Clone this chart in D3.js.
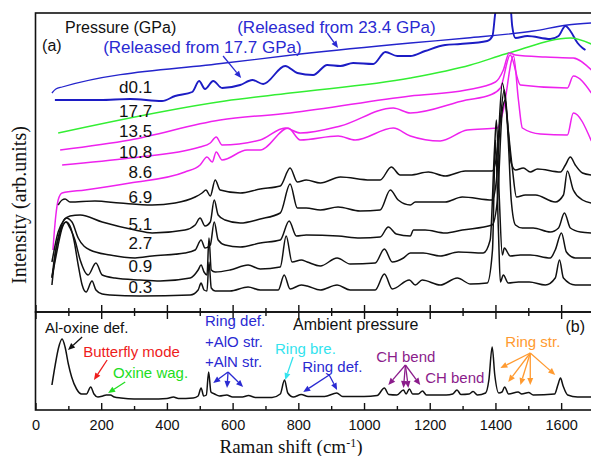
<!DOCTYPE html>
<html>
<head>
<meta charset="utf-8">
<script src="https://cdn.jsdelivr.net/npm/d3@7"></script>
<style>
  body { margin: 0; background: #fff; }
  svg { display: block; }
</style>
</head>
<body>
<script>
// ---- Axis ticks ----
const shiftTicks = d3.range(0, 1701, 100);
const shiftLabels = [0, 200, 400, 600, 800, 1000, 1200, 1400, 1600];

// ---- Spectra under pressure: [Raman shift (cm-1), intensity (arb. units)] ----
const released234 = [[50,219],[62,223],[81,225],[577,249],[806,258],[1141,269],[1314,274],[1515,281],[1619,287],[1692,289]];

const released177 = [[59,212],[196,212],[288,213],[385,211],[425,216],[477,220],[498,231],[516,223],[541,231],[568,224],
  [623,227],[660,232],[693,228],[760,246],[797,239],[845,237],[888,247],[928,246],[967,249],[1028,248],[1065,260],
  [1101,256],[1141,256],[1186,261],[1247,267],[1293,268],[1375,271],[1391,276],[1400,300],[1406,307],[1445,307],
  [1451,286],[1461,274],[1497,276],[1567,273],[1592,276],[1613,286],[1628,281],[1650,269],[1665,264],[1674,262]];

const p177 = [[69,179],[577,211],[775,219],[1141,234],[1324,247],[1430,258],[1461,261],[1628,274],[1692,268]];

const p135 = [[75,162],[288,172],[562,192],[775,199],[1141,216],[1311,222],[1400,230],[1424,242],[1442,259],
  [1461,257],[1552,255],[1637,254],[1692,242]];

const p108 = [[81,147],[288,154],[501,165],[532,169],[550,175],[568,167],[684,172],[760,184],[806,179],[928,186],
  [1089,204],[1141,199],[1311,212],[1384,217],[1415,224],[1445,257],[1476,227],[1619,224],[1637,236],[1692,219]];

const p86 = [[53,62],[62,97],[69,112],[81,119],[151,122],[288,129],[455,140],[501,147],[522,155],[538,150],[550,160],
  [568,152],[644,162],[684,162],[769,184],[806,172],[921,176],[973,172],[1089,184],[1141,176],[1232,171],[1314,182],
  [1406,184],[1424,202],[1455,256],[1470,212],[1482,184],[1537,178],[1619,177],[1637,199],[1692,171]];

const p69 = [[69,107],[81,112],[90,113],[105,110],[181,111],[257,109],[355,107],[425,109],[486,115],[507,119],[519,122],
  [532,116],[547,132],[562,122],[623,119],[684,123],[745,126],[775,144],[797,130],[824,132],[867,129],[928,135],
  [1019,132],[1049,132],[1083,145],[1110,137],[1141,137],[1196,140],[1247,136],[1308,141],[1390,141],[1406,162],
  [1421,229],[1436,192],[1448,149],[1461,142],[1485,144],[1506,140],[1528,143],[1598,140],[1613,147],[1628,155],
  [1643,147],[1665,139],[1692,137]];

const p51 = [[50,50],[69,80],[87,92],[105,96],[136,97],[203,90],[303,82],[355,79],[455,82],[486,87],[501,94],[516,86],
  [532,90],[544,112],[556,97],[577,92],[623,89],[684,93],[745,99],[775,128],[797,104],[824,104],[867,102],[921,105],
  [988,101],[1049,102],[1080,122],[1104,112],[1141,107],[1156,110],[1190,110],[1247,110],[1299,115],[1390,112],
  [1403,132],[1415,192],[1427,222],[1439,182],[1452,142],[1464,115],[1491,117],[1522,117],[1582,110],[1607,117],
  [1619,141],[1637,122],[1665,112],[1692,109]];

const p27 = [[50,27],[62,62],[75,82],[93,94],[111,90],[130,74],[166,62],[227,57],[303,54],[355,56],[455,59],[486,62],
  [504,72],[516,64],[532,67],[544,90],[556,72],[577,67],[623,65],[684,69],[745,72],[772,91],[794,76],[824,77],
  [921,76],[988,74],[1049,75],[1074,85],[1098,78],[1141,76],[1150,82],[1186,82],[1247,79],[1299,82],[1390,87],
  [1406,112],[1421,202],[1430,212],[1439,172],[1448,112],[1461,87],[1482,84],[1515,84],[1567,80],[1592,84],
  [1610,99],[1628,84],[1659,80],[1692,79]];

const p09 = [[50,34],[59,57],[75,80],[93,90],[105,84],[120,72],[136,52],[160,37],[184,49],[203,37],[242,34],[318,32],
  [379,31],[471,34],[495,42],[504,47],[513,40],[522,37],[528,74],[535,42],[547,40],[592,42],[647,47],[684,43],
  [745,45],[763,76],[781,50],[809,52],[827,50],[867,46],[918,54],[958,48],[1034,49],[1062,63],[1086,50],[1120,54],
  [1141,59],[1180,59],[1232,56],[1287,60],[1363,59],[1384,72],[1397,162],[1403,192],[1412,112],[1421,57],[1427,64],
  [1445,56],[1476,57],[1506,57],[1567,54],[1582,62],[1601,79],[1616,60],[1643,54],[1692,54]];

const p03 = [[50,35],[59,50],[69,67],[81,84],[93,90],[105,86],[117,72],[130,47],[142,27],[154,20],[172,31],[184,22],
  [203,18],[227,17],[318,16],[471,17],[495,22],[504,29],[513,22],[522,21],[528,50],[535,24],[547,21],[592,21],
  [647,25],[684,22],[739,22],[757,37],[775,23],[809,27],[827,26],[867,22],[918,27],[958,22],[1034,22],[1062,38],
  [1086,23],[1138,32],[1156,27],[1177,32],[1232,27],[1284,34],[1324,28],[1375,29],[1391,62],[1400,172],[1409,82],
  [1415,30],[1424,37],[1439,29],[1470,30],[1503,30],[1552,27],[1582,34],[1595,52],[1607,34],[1643,27],[1692,27]];

// ---- Ambient-pressure spectrum (panel b) ----
const ambient = [[50,25],[60,45],[70,62],[81,71],[90,63],[100,46],[110,33],[125,21],[140,16],[155,16],[168,23],[178,16],
  [190,13],[205,14],[215,15],[228,15],[240,13],[260,12],[300,11],[350,11],[400,11.5],[420,13],[435,11.5],[480,12],
  [495,14],[504,22],[512,14],[520,15],[527,38],[534,18],[545,16],[560,14],[582,15],[600,13],[630,13],[648,14.5],
  [670,12.5],[720,12.5],[745,16],[758,30],[768,17],[785,13],[809,15.5],[830,13.5],[880,13.5],[917,17],[935,13.5],
  [1000,13.5],[1040,14.5],[1062,22],[1075,15.5],[1100,15],[1120,20],[1128,16],[1138,21],[1148,16],[1165,16],
  [1178,19],[1190,15],[1250,15],[1270,16],[1283,20],[1295,15.5],[1320,16],[1332,18.5],[1345,15],[1370,17],
  [1380,30],[1390,63],[1398,35],[1410,17],[1420,18],[1428,23],[1440,16],[1469,18],[1480,16],[1501,17.5],[1515,15],
  [1580,16],[1590,25],[1598,32],[1606,24],[1620,15],[1650,13],[1700,13]];

// pressure labels (GPa) and the intensity level each label sits at
const pressureNames  = ['d0.1','17.7','13.5','10.8','8.6','6.9','5.1','2.7','0.9','0.3'];
const pressureLevels = [219, 195, 175, 154, 134, 109, 82, 63, 40, 19];

// ---- Series styling ----
const series = [
  { data: released234, color: '#2424cc', width: 1.3 },
  { data: released177, color: '#1c1cc4', width: 1.9 },
  { data: p177, color: '#33ee33', width: 1.5 },
  { data: p135, color: '#ee22ee', width: 1.5 },
  { data: p108, color: '#ee22ee', width: 1.5 },
  { data: p86,  color: '#ee22ee', width: 1.5 },
  { data: p69,  color: '#111111', width: 1.5 },
  { data: p51,  color: '#111111', width: 1.5 },
  { data: p27,  color: '#111111', width: 1.5 },
  { data: p09,  color: '#111111', width: 1.5 },
  { data: p03,  color: '#111111', width: 1.5 }
];

// ---- Layout ----
const W = 591, H = 456;
const plotL = 35.5, plotR = 594, plotT = 13, plotMid = 312, plotB = 410;
const sans = "'Liberation Sans', Arial, sans-serif";
const serif = "'Liberation Serif', 'Times New Roman', serif";

const svg = d3.select('body').append('svg').attr('width', W).attr('height', H);

const x = d3.scaleLinear().domain([0, 1700]).range([plotL, plotR]);
const yTop = d3.scaleLinear().domain([0, 299]).range([plotMid, plotT]);
const yBot = d3.scaleLinear().domain([0, 98]).range([plotB, plotMid]);

const defs = svg.append('defs');
defs.append('clipPath').attr('id', 'clipTop').append('rect')
  .attr('x', plotL).attr('y', plotT).attr('width', plotR - plotL).attr('height', plotMid - plotT);
defs.append('clipPath').attr('id', 'clipBot').append('rect')
  .attr('x', plotL).attr('y', plotMid).attr('width', plotR - plotL).attr('height', plotB - plotMid);

// ---- Spectra, panel (a) ----
const lineTop = d3.line().x(d => x(d[0])).y(d => yTop(d[1])).curve(d3.curveMonotoneX);
const gTop = svg.append('g').attr('clip-path', 'url(#clipTop)');
gTop.selectAll('path.spec').data(series).join('path')
  .attr('class', 'spec')
  .attr('d', s => lineTop(s.data))
  .attr('fill', 'none')
  .attr('stroke', s => s.color)
  .attr('stroke-width', s => s.width)
  .attr('stroke-linejoin', 'round');

// ---- Spectrum, panel (b) ----
const lineBot = d3.line().x(d => x(d[0])).y(d => yBot(d[1])).curve(d3.curveMonotoneX);
svg.append('g').attr('clip-path', 'url(#clipBot)').append('path')
  .attr('d', lineBot(ambient))
  .attr('fill', 'none').attr('stroke', '#111').attr('stroke-width', 1.5)
  .attr('stroke-linejoin', 'round');

// ---- Frames ----
svg.append('rect').attr('x', plotL).attr('y', plotT).attr('width', plotR - plotL).attr('height', plotMid - plotT)
  .attr('fill', 'none').attr('stroke', '#111').attr('stroke-width', 1.6);
svg.append('rect').attr('x', plotL).attr('y', plotMid).attr('width', plotR - plotL).attr('height', plotB - plotMid)
  .attr('fill', 'none').attr('stroke', '#111').attr('stroke-width', 1.6);

// ---- Ticks (major every 200, minor every 100, pointing inward) ----
const major = shiftTicks.filter(v => v % 200 === 0);
const minor = shiftTicks.filter(v => v % 200 !== 0);
function tickRow(y, axisFn, values, size) {
  const g = svg.append('g').attr('transform', `translate(0,${y})`)
    .call(axisFn(x).tickValues(values).tickSize(size).tickFormat(''));
  g.select('.domain').remove();
  g.selectAll('line').attr('stroke', '#111').attr('stroke-width', 1.4);
}
tickRow(plotMid, d3.axisTop, major, 7);
tickRow(plotMid, d3.axisTop, minor, 4);
tickRow(plotMid, d3.axisBottom, major, 7);
tickRow(plotMid, d3.axisBottom, minor, 4);
tickRow(plotB, d3.axisTop, major, 7);
tickRow(plotB, d3.axisTop, minor, 4);

const xAxis = svg.append('g').attr('transform', `translate(0,${plotB})`)
  .call(d3.axisBottom(x).tickValues(shiftLabels).tickSize(0).tickPadding(10).tickFormat(d3.format('d')));
xAxis.select('.domain').remove();
xAxis.selectAll('text').attr('font-family', sans).attr('font-size', 14.5).attr('fill', '#111');

// ---- Axis titles ----
const xt = svg.append('text').attr('x', (212 + 370) / 2).attr('y', 453)
  .attr('text-anchor', 'middle').attr('font-family', serif).attr('font-size', 19).attr('fill', '#111');
xt.append('tspan').text('Raman shift (cm');
xt.append('tspan').attr('dy', -6).attr('font-size', 12).text('-1');
xt.append('tspan').attr('dy', 6).text(')');

svg.append('text').attr('transform', 'translate(26,205) rotate(-90)')
  .attr('text-anchor', 'middle').attr('font-family', serif).attr('font-size', 20).attr('fill', '#111')
  .text('Intensity (arb.units)');

// ---- Arrow helper ----
function arrow(g, from, to, color, yScale) {
  const x0 = x(from[0]), y0 = yScale(from[1]), x1 = x(to[0]), y1 = yScale(to[1]);
  const dx = x1 - x0, dy = y1 - y0, len = Math.hypot(dx, dy);
  const ux = dx / len, uy = dy / len, L = 7, hw = 3;
  const bx = x1 - ux * L, by = y1 - uy * L;
  g.append('line').attr('x1', x0).attr('y1', y0).attr('x2', bx).attr('y2', by)
    .attr('stroke', color).attr('stroke-width', 1.3);
  g.append('path')
    .attr('d', `M${x1},${y1}L${bx - uy * hw},${by + ux * hw}L${bx + uy * hw},${by - ux * hw}Z`)
    .attr('fill', color);
}

// ---- Panel (a) text ----
const blue = '#2a2ad2';
const topNotes = [
  { text: 'Pressure (GPa)', at: [90, 279], color: '#111', size: 16 },
  { text: '(a)', at: [20, 261], color: '#111', size: 16 },
  { text: '(Released from 23.4 GPa)', at: [614, 279], color: blue, size: 17 },
  { text: '(Released from 17.7 GPa)', at: [206, 259], color: blue, size: 17 }
];
const gNotes = svg.append('g');
topNotes.forEach(n => gNotes.append('text')
  .attr('x', x(n.at[0])).attr('y', yTop(n.at[1]))
  .attr('font-family', sans).attr('font-size', n.size).attr('fill', n.color).text(n.text));
arrow(gNotes, [888, 279], [921, 264], blue, yTop);
arrow(gNotes, [571, 256], [626, 234], blue, yTop);

gNotes.selectAll('text.plabel').data(pressureNames).join('text')
  .attr('class', 'plabel')
  .attr('x', x(355)).attr('y', (d, i) => yTop(pressureLevels[i]))
  .attr('text-anchor', 'end').attr('font-family', sans).attr('font-size', 17).attr('fill', '#111')
  .text(d => d);

// ---- Panel (b) assignments ----
const red = '#ee1c1c', green = '#22dd22', cyan = '#33e3ee', purple = '#8b1c8b', orange = '#ff9a30';
const bottomNotes = [
  { text: 'Al-oxine def.', at: [29, 77], color: '#111', size: 15 },
  { text: 'Butterfly mode', at: [145, 53], color: red, size: 15 },
  { text: 'Oxine wag.', at: [236, 32], color: green, size: 15 },
  { text: 'Ring def.', at: [516, 84], color: blue, size: 15 },
  { text: '+AlO str.', at: [516, 63], color: blue, size: 15 },
  { text: '+AlN str.', at: [516, 43], color: blue, size: 15 },
  { text: 'Ambient pressure', at: [784, 80], color: '#111', size: 16 },
  { text: '(b)', at: [1613, 78], color: '#111', size: 16 },
  { text: 'Ring bre.', at: [729, 56], color: cyan, size: 15 },
  { text: 'Ring def.', at: [812, 38], color: blue, size: 15 },
  { text: 'CH bend', at: [1037, 48], color: purple, size: 15 },
  { text: 'CH bend', at: [1186, 27], color: purple, size: 15 },
  { text: 'Ring str.', at: [1430, 63], color: orange, size: 15 }
];
const bottomArrows = [
  { from: [142, 73], to: [[99, 60]], color: '#111' },
  { from: [218, 50], to: [[178, 30]], color: red },
  { from: [273, 28], to: [[221, 17]], color: green },
  { from: [586, 38], to: [[541, 27], [583, 22], [632, 23]], color: blue },
  { from: [784, 53], to: [[760, 30]], color: cyan },
  { from: [894, 35], to: [[815, 18], [918, 20]], color: blue },
  { from: [1126, 45], to: [[1074, 25], [1120, 22], [1135, 22], [1171, 25]], color: purple },
  { from: [1506, 57], to: [[1415, 42], [1439, 28], [1476, 25], [1506, 25], [1582, 35]], color: orange }
];
const gB = svg.append('g');
bottomNotes.forEach(n => gB.append('text')
  .attr('x', x(n.at[0])).attr('y', yBot(n.at[1]))
  .attr('font-family', sans).attr('font-size', n.size).attr('fill', n.color).text(n.text));
bottomArrows.forEach(a => a.to.forEach(t => arrow(gB, a.from, t, a.color, yBot)));
</script>
</body>
</html>
